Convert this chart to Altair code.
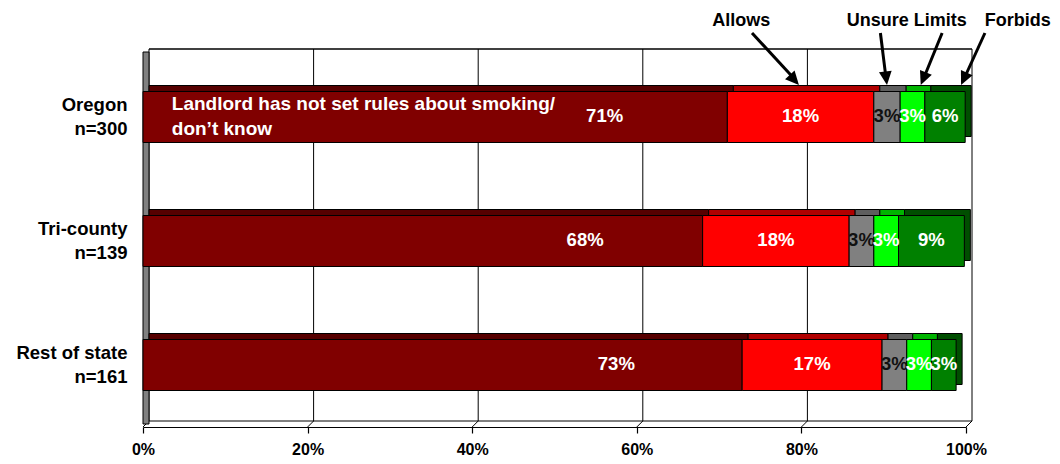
import math
import altair as alt
import pandas as pd

# ---------------- data ----------------
regions = ["Oregon", "Tri-county", "Rest of state"]
sample_sizes = [300, 139, 161]
categories = ["Not set / don't know", "Allows", "Unsure", "Limits", "Forbids"]

oregon_vals = [71.0, 17.8, 3.2, 3.0, 4.9]
tricounty_vals = [68.0, 17.8, 3.0, 3.0, 8.0]
rest_vals = [72.8, 17.0, 3.0, 3.0, 3.0]

oregon_labels = ["71%", "18%", "3%", "3%", "6%"]
tricounty_labels = ["68%", "18%", "3%", "3%", "9%"]
rest_labels = ["73%", "17%", "3%", "3%", "3%"]

tick_values = [0, 20, 40, 60, 80, 100]

ann_texts = ["Allows", "Unsure Limits", "Forbids"]
ann_text_x = [72.7, 92.8, 106.3]
arrow_start_x = [74.0, 89.6, 97.1, 102.3]
arrow_tip_x = [79.7, 90.4, 94.5, 99.4]

landlord_text = ["Landlord has not set rules about smoking/", "don\u2019t know"]

# ---------------- style ----------------
front_colors = ["#800000", "#FF0000", "#808080", "#00FF00", "#008000"]
depth_colors = ["#560000", "#B00000", "#5E5E5E", "#00B400", "#004E00"]
label_colors = ["white", "white", "#111111", "white", "white"]
label_frac = [0.79, 0.5, 0.5, 0.5, 0.5]
FONT = "Liberation Sans, Arial, sans-serif"
W, H = 823, 372
D = 6  # 3D depth in px
BAR = 51

region_keys = [f"{r}|n={n}" for r, n in zip(regions, sample_sizes)]

rows = []
for key, vals, labs in zip(region_keys,
                           [oregon_vals, tricounty_vals, rest_vals],
                           [oregon_labels, tricounty_labels, rest_labels]):
    start = 0.0
    for i, (c, v, l) in enumerate(zip(categories, vals, labs)):
        rows.append({"region": key, "cat": c, "order": i, "x0": start, "x1": start + v,
                     "pos": start + label_frac[i] * v, "label": l,
                     "lc": label_colors[i], "fc": front_colors[i],
                     "dc": depth_colors[i]})
        start += v
df = pd.DataFrame(rows)
ticks_df = pd.DataFrame({"t": tick_values})
frame_df = pd.DataFrame({"a": [min(tick_values)], "b": [max(tick_values)]})

xscale = alt.Scale(domain=[0, 100], nice=False, zero=True)
yscale = alt.Scale(domain=region_keys, paddingInner=0, paddingOuter=0)

# back wall grid lines
grid = alt.Chart(ticks_df).mark_rule(color="black", strokeWidth=1, xOffset=D).encode(
    x=alt.X("t:Q", scale=xscale), y=alt.value(-D), y2=alt.value(H - D))
floor_diag = alt.Chart(ticks_df).mark_rule(color="black", strokeWidth=1,
                                           xOffset=D, x2Offset=0).encode(
    x=alt.X("t:Q", scale=xscale), x2="t:Q", y=alt.value(H - D), y2=alt.value(H))
wall_top = alt.Chart(frame_df).mark_rule(color="black", strokeWidth=1.5,
                                         xOffset=D, x2Offset=D).encode(
    x=alt.X("a:Q", scale=xscale), x2="b:Q", y=alt.value(-D))
floor_back = alt.Chart(frame_df).mark_rule(color="black", strokeWidth=1,
                                           xOffset=D, x2Offset=D).encode(
    x=alt.X("a:Q", scale=xscale), x2="b:Q", y=alt.value(H - D))
left_wall = alt.Chart(frame_df).mark_rect(fill="#808080", stroke="black",
                                          strokeWidth=1).encode(
    x=alt.value(0), x2=alt.value(D), y=alt.value(-D / 2), y2=alt.value(H - D / 2))

# depth (top / side faces)
depth = alt.Chart(df).mark_bar(size=BAR, stroke="black", strokeWidth=1,
                               xOffset=D, x2Offset=D, yOffset=-D, y2Offset=-D).encode(
    x=alt.X("x0:Q", scale=xscale), x2="x1:Q",
    y=alt.Y("region:N", scale=yscale, sort=region_keys),
    color=alt.Color("dc:N", scale=None),
    order=alt.Order("order:Q"))

front = alt.Chart(df).mark_bar(size=BAR, stroke="black", strokeWidth=1).encode(
    x=alt.X("x0:Q", scale=xscale,
            axis=alt.Axis(values=tick_values, labelExpr="datum.value + '%'", grid=False,
                          tickSize=6, tickColor="black", tickWidth=1.2,
                          domainColor="black", domainWidth=1.2, labelFlush=False,
                          labelFont=FONT, labelFontSize=16, labelFontWeight="bold",
                          labelColor="black", labelPadding=8, title=None)),
    x2="x1:Q",
    y=alt.Y("region:N", scale=yscale, sort=region_keys,
            axis=alt.Axis(labelExpr="split(datum.label, '|')", ticks=False, domain=False,
                          labelPadding=16, labelFont=FONT, labelFontSize=18.5,
                          labelFontWeight="bold", labelColor="black", labelOffset=-12,
                          labelLineHeight=24, title=None)),
    color=alt.Color("fc:N", scale=None),
    order=alt.Order("order:Q"))

labels = alt.Chart(df).mark_text(font=FONT, fontSize=18.5, fontWeight="bold", dy=-1).encode(
    x=alt.X("pos:Q", scale=xscale), y=alt.Y("region:N", scale=yscale, sort=region_keys),
    text="label:N", color=alt.Color("lc:N", scale=None))

landlord_df = pd.DataFrame({"region": [region_keys[0]], "x": [3.5]})
landlord = alt.Chart(landlord_df).mark_text(font=FONT, fontSize=19, fontWeight="bold",
                                            color="white", align="left", dy=-13,
                                            baseline="middle", lineHeight=25).encode(
    x=alt.X("x:Q", scale=xscale), y=alt.Y("region:N", scale=yscale, sort=region_keys),
    text=alt.value(landlord_text))

ann_df = pd.DataFrame({"text": ann_texts, "x": ann_text_x})
ann = alt.Chart(ann_df).mark_text(font=FONT, fontSize=18, fontWeight="bold",
                                  color="black", baseline="middle").encode(
    x=alt.X("x:Q", scale=xscale), y=alt.value(-34), text="text:N")

START_Y, TIP_Y = -22, 30
px = W / 100.0
arr_rows = []
for s, t in zip(arrow_start_x, arrow_tip_x):
    dx = (t - s) * px
    dy = TIP_Y - START_Y
    ln = math.hypot(dx, dy)
    ang = math.degrees(math.atan2(-dx, dy)) % 360
    end_x = t - (dx / ln) * 8 / px
    arr_rows.append({"s": s, "t": t, "e": end_x, "ang": ang})
arr_df = pd.DataFrame(arr_rows)
shafts = alt.Chart(arr_df).mark_rule(color="black", strokeWidth=3).encode(
    x=alt.X("s:Q", scale=xscale), x2="e:Q", y=alt.value(START_Y), y2=alt.value(TIP_Y - 7))
heads = alt.Chart(arr_df).mark_point(shape="M0,0 L-0.8,-1.7 L0.8,-1.7 Z", filled=True,
                                     size=256, color="black", opacity=1).encode(
    x=alt.X("t:Q", scale=xscale), y=alt.value(TIP_Y),
    angle=alt.Angle("ang:Q", scale=None))

chart = alt.layer(grid, floor_diag, wall_top, floor_back, left_wall, depth, front,
                  labels, landlord, ann, shafts, heads).properties(
    width=W, height=H, autosize="none",
    padding={"left": 135, "top": 47, "right": 86, "bottom": 29},
    background="white",
).configure_view(stroke=None)

chart.save("out.html", embed_options={"renderer": "svg", "actions": False})
